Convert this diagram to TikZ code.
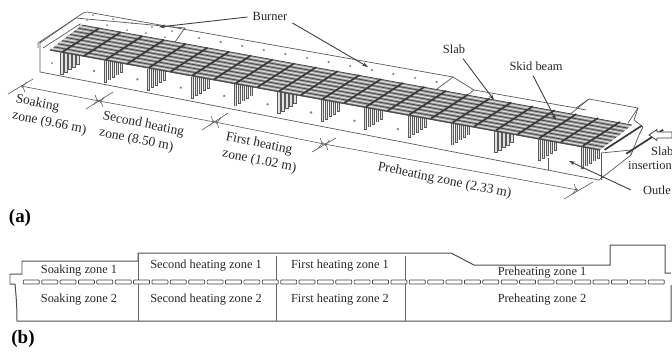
\documentclass[tikz,border=0pt]{standalone}
\usepackage{fontspec}
\setmainfont{Liberation Serif}
\usetikzlibrary{arrows.meta}
\tikzset{
  wall/.style={draw=black!65,line width=.7pt},
  outl/.style={draw=black!70,line width=1pt},
  lead/.style={draw=black!75,line width=.9pt,-{Stealth[length=6pt,width=4pt]}},
  dim/.style={draw=black!65,line width=.6pt,{To[length=5pt]}-{To[length=5pt]}},
  tick/.style={draw=black!65,line width=.6pt},
  lbl/.style={font=\fontsize{12.5}{15}\selectfont,text=black!85,inner sep=0pt},
  zlbl/.style={font=\fontsize{13.5}{17}\selectfont,text=black!85,inner sep=0pt,rotate=-11.5,anchor=north west,align=left},
  room/.style={font=\fontsize{12.4}{14}\selectfont,text=black!85,inner sep=0pt},
  tag/.style={font=\fontsize{19}{22}\selectfont\bfseries,inner sep=0pt},
  dot/.style={fill=black!50,draw=none},
  plate/.style={draw=black!75,line width=.7pt,fill=white}
}
\begin{document}
\begin{tikzpicture}[x=1bp,y=-1bp]
\useasboundingbox (0,0) rectangle (672,352);
% furnace shell
\draw[wall] (40,72) -- (40,43) -- (83,13) -- (87,12) -- (453,77) -- (474,90) -- (576,108) -- (589,99) -- (638,108) -- (634,120) -- (643,127) -- (639,135) -- (631,155) -- (599,180) -- cycle;
\draw[wall] (38,48) -- (38,43) -- (76,18) -- (185,28) -- (175,42);
\draw[wall] (43,48) -- (80,24) -- (80,30);
\draw[wall] (453,77) -- (433,92);
\draw[wall] (474,90) -- (461,100);
\draw[wall] (589,99) -- (563,120);
\draw[wall] (576,108) -- (586,110);
\draw[wall] (638,108) -- (628,123);
\draw[wall] (601,153) -- (601,180);
\draw[wall] (548,158) -- (548,170);
\draw[wall] (601,153) -- (631,150) -- (631,155);
% wall dots
\foreach \i in {0,...,7} \fill[dot] ({94+43.4*\i},{71+8.3*\i}) circle (1.3);
\foreach \i in {0,...,11} \fill[dot] ({199+21.6*\i},{38+4*\i}) circle (1.2);
\foreach \p in {(93,15),(113,19),(132,23),(152,27),(172,31),(87,20),(107,25),(127,30),(146,33),(165,37),(52,63)} \fill[dot] \p circle (1);
% pillars
\foreach \j in {0,...,12}{
  \foreach \i in {4,3,2,1,0}{
    \pgfmathsetmacro{\px}{62+43.4*\j+4*\i}
    \pgfmathsetmacro{\pt}{50+(62+43.4*\j-50)*.18+1-2.5*\i}
    \pgfmathsetmacro{\pb}{\pt+22}
    \draw[black!65,line width=3.2pt] (\px,\pt) -- (\px,\pb);
    \draw[black!12,line width=1.2pt] (\px,\pt) -- (\px,\pb-.8);
  }
}
% slab band
\fill[black!40] (50,50) -- (600,150) -- (632,125) -- (82,25) -- cycle;
\foreach \s in {0,...,8}{
  \pgfmathsetmacro{\sa}{\s/8}
  \draw[black!75,line width=.7pt] ({50+32*\sa},{50-25*\sa}) -- ({600+32*\sa},{150-25*\sa});
}
\foreach \s in {0,...,7}{
  \pgfmathsetmacro{\sa}{(\s+.5)/8}
  \draw[black!12,line width=1pt] ({50+32*\sa},{50-25*\sa}) -- ({600+32*\sa},{150-25*\sa});
}
\draw[black!70,line width=1.2pt] (50,50) -- (600,150);
% skid beams
\foreach \j in {0,...,26}{
  \pgfmathsetmacro{\bx}{62+21.7*\j}
  \pgfmathsetmacro{\by}{52.2+21.7*\j*.18}
  \draw[black!78,line width=1.7pt] (\bx,\by) -- ({\bx+37},{\by-24});
}
% leaders and labels of the perspective view
\node[lbl] (burner) at (270,16) {Burner};
\node[lbl] (slab) at (454,49) {Slab};
\node[lbl] (skid) at (536,66) {Skid beam};
\node[lbl,anchor=west] (slabin) at (651,151) {Slab};
\node[lbl,anchor=west] (insert) at (628,165) {insertion};
\node[lbl,anchor=west] (outlet) at (643,190) {Outle};
\coordinate (bt1) at (159,27);
\coordinate (bt2) at (368,67);
\coordinate (st) at (494,100);
\coordinate (kt) at (556,120);
\coordinate (ot) at (569,161);
\draw[lead] (burner.west)++(-5,1) -- (bt1);
\draw[lead] (burner.east)++(5,7) -- (bt2);
\draw[lead] (slab.south)++(9,5) -- (st);
\draw[lead] (skid.south)++(-3,5) -- (kt);
\draw[lead] (outlet.west)++(-12,0) -- (ot);
\draw[black!75,line width=.8pt,fill=white] (649,135) -- (657,129.5) -- (657,132) -- (672,132) -- (672,138) -- (657,138) -- (657,140.5) -- cycle;
% dimension line
\coordinate (t0) at (21,86);
\coordinate (t1) at (99,101);
\coordinate (t2) at (215,122);
\coordinate (t3) at (324,144);
\coordinate (t4) at (578,190);
\draw[dim] (t0) -- (t1);
\draw[dim] (t1) -- (t2);
\draw[dim] (t2) -- (t3);
\draw[dim] (t3) -- (t4);
\draw[tick] (8,94) -- (33,79);
\draw[tick] (86,109) -- (113,92);
\draw[tick] (202,130) -- (228,113);
\draw[tick] (312,152) -- (336,138);
\draw[tick] (564,199) -- (593,182);
\node[zlbl] (z1) at (17,93) {Soaking\\zone (9.66 m)};
\node[zlbl] (z2) at (104,110) {Second heating\\zone (8.50 m)};
\node[zlbl] (z3) at (227,131) {First heating\\zone (1.02 m)};
\node[zlbl] (z4) at (379,161) {Preheating zone (2.33 m)};
\node[tag] (a) at (20,218) {(a)};
% section view
\draw[outl] (671,273) -- (665,273) -- (665,245) -- (610,245) -- (610,265) -- (474,265) -- (451,253) -- (138,253) -- (138,261) -- (22,261) -- (22,274) -- (10,274) -- (10,284) -- (15,284) .. controls (16,295) and (17,305) .. (17,321) -- (671,321) -- (671,285);
\draw[black!60,line width=.8pt] (138,253) -- (138,321);
\draw[black!60,line width=.8pt] (276,256) -- (276,321);
\draw[black!60,line width=.8pt] (405,256) -- (405,321);
\foreach \i in {0,...,34}
  \draw[plate,rounded corners=.7pt] ({23.3+18.38*\i},280) rectangle ({39.3+18.38*\i},284);
\node[room] (r1) at (79,271) {Soaking zone 1};
\node[room] (r2) at (79,300) {Soaking zone 2};
\node[room] (r3) at (206,266) {Second heating zone 1};
\node[room] (r4) at (206,300) {Second heating zone 2};
\node[room] (r5) at (340,266) {First heating zone 1};
\node[room] (r6) at (340,300) {First heating zone 2};
\node[room] (r7) at (542,273) {Preheating zone 1};
\node[room] (r8) at (542,300) {Preheating zone 2};
\node[tag] (b) at (23,339) {(b)};
\end{tikzpicture}
\end{document}
